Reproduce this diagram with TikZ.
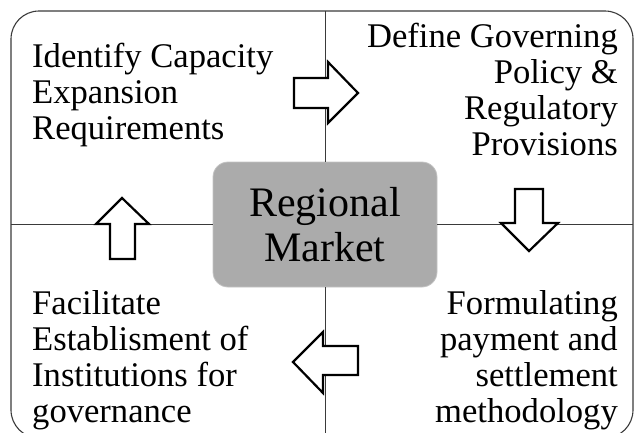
\documentclass[tikz,border=0pt]{standalone}
\usepackage{fontspec}
\setmainfont{Liberation Serif}
\newcommand\textlines[2]{\begin{tabular}[t]{@{}#1@{}}#2\end{tabular}}
\definecolor{framegray}{HTML}{3A3A3A}
\definecolor{hubfill}{HTML}{ABABAB}
\definecolor{hubedge}{HTML}{C4C4C4}
\begin{document}
\begin{tikzpicture}[x=1pt,y=-1pt,
  frame/.style={draw=framegray,line width=1.1pt,rounded corners=28pt},
  divider/.style={draw=framegray,line width=0.9pt},
  hub/.style={fill=hubfill,draw=hubedge,line width=0.8pt,rounded corners=15pt,
    minimum width=224pt,minimum height=125pt,inner sep=0pt,align=center,
    font=\fontsize{42}{45}\selectfont},
  steptext/.style={inner sep=0pt,font=\fontsize{34.6}{36}\selectfont},
  blockarrow/.style={draw=black,fill=white,line width=2.2pt,line join=miter}]
\useasboundingbox (0,0) rectangle (635,432);

% outer frame (its lower edge runs past the page)
\draw[frame] (11,11) rectangle (633,438);
\coordinate (ftop) at (325,11);
\coordinate (fbottom) at (325,438);
\coordinate (fleft) at (11,224);
\coordinate (fright) at (633,224);

% central hub
\node[hub] (market) at (325,224.5) {Regional\\Market};

% quadrant dividers
\draw[divider] (market.north |- ftop) -- (market.north);
\draw[divider] (market.south) -- (market.south |- fbottom);
\draw[divider] (fleft) -- (fleft -| market.west);
\draw[divider] (market.east |- fright) -- (fright);

% step descriptions
\node[steptext,anchor=base west] (identify) at (32,67)
  {\textlines{l}{Identify Capacity\\Expansion\\Requirements}};
\node[steptext,anchor=base east] (define) at (618,47)
  {\textlines{r}{Define Governing\\Policy \&\\Regulatory\\Provisions}};
\node[steptext,anchor=base east] (formulate) at (618,314)
  {\textlines{r}{Formulating\\payment and\\settlement\\methodology}};
\node[steptext,anchor=base west] (facilitate) at (32,314)
  {\textlines{l}{Facilitate\\Establisment of\\Institutions for\\governance}};

% hollow block arrows between the steps
\draw[blockarrow] (294,78) -- (328,78) -- (328,62) -- (358,93) -- (328,123)
  -- (328,108) -- (294,108) -- cycle;
\draw[blockarrow] (515,189) -- (543,189) -- (543,223) -- (558,223) -- (529,251)
  -- (501,223) -- (515,223) -- cycle;
\draw[blockarrow] (358,346) -- (323,346) -- (323,332) -- (293,362) -- (323,393)
  -- (323,375) -- (358,375) -- cycle;
\draw[blockarrow] (110,259) -- (135,259) -- (135,224) -- (149,224) -- (122,198)
  -- (96,224) -- (110,224) -- cycle;
\end{tikzpicture}
\end{document}
